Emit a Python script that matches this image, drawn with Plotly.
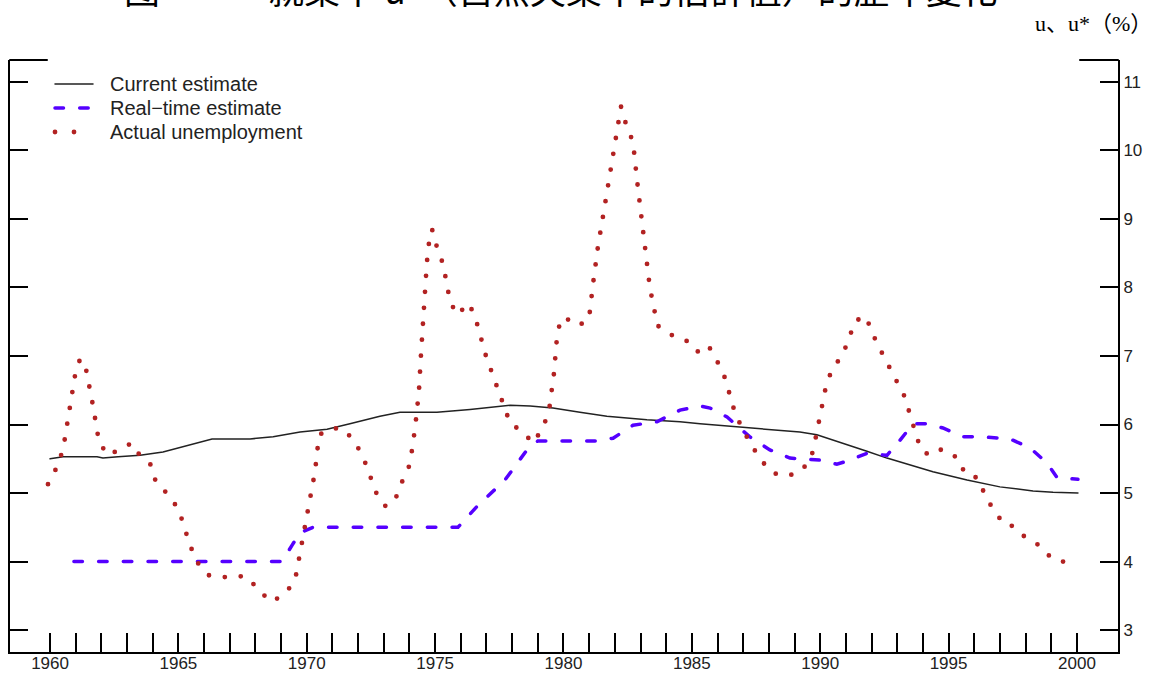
import plotly.graph_objects as go

# ---- data -------------------------------------------------------------
# Current estimate of the natural rate u*
cur_year = [1960.00, 1960.51, 1961.83, 1962.06, 1962.65, 1963.51, 1964.40, 1965.14,
            1965.73, 1966.31, 1967.79, 1968.69, 1969.74, 1970.79, 1971.68, 1972.85,
            1973.63, 1975.07, 1976.36, 1977.92, 1978.70, 1979.59, 1980.64, 1981.69,
            1983.25, 1984.54, 1985.32, 1986.99, 1988.16, 1989.21, 1989.87, 1990.89,
            1991.82, 1992.60, 1993.38, 1994.39, 1995.72, 1997.00, 1998.29, 1999.07,
            2000.04]
cur_val = [5.50, 5.53, 5.53, 5.51, 5.53, 5.55, 5.60, 5.67,
           5.73, 5.79, 5.79, 5.82, 5.89, 5.93, 6.01, 6.12,
           6.18, 6.18, 6.22, 6.28, 6.27, 6.24, 6.18, 6.12,
           6.07, 6.04, 6.01, 5.96, 5.92, 5.89, 5.85, 5.73,
           5.61, 5.51, 5.42, 5.31, 5.19, 5.09, 5.03, 5.01,
           5.00]

# Real-time estimate of u*
rt_year = [1960.93, 1969.04, 1969.43, 1969.74, 1970.24, 1975.89, 1976.67, 1977.21,
           1977.72, 1978.58, 1979.00, 1981.34, 1981.93, 1982.71, 1983.64, 1984.54,
           1985.32, 1985.71, 1986.37, 1987.26, 1988.04, 1988.82, 1989.99, 1990.65,
           1991.16, 1991.82, 1992.60, 1993.11, 1993.61, 1994.16, 1994.78, 1995.56,
           1996.34, 1997.39, 1998.17, 1998.83, 1999.22, 2000.04]
rt_val = [4.00, 4.00, 4.24, 4.42, 4.50, 4.50, 4.82, 5.01,
          5.19, 5.63, 5.76, 5.76, 5.80, 5.99, 6.04, 6.21,
          6.27, 6.24, 6.11, 5.82, 5.63, 5.51, 5.48, 5.42,
          5.48, 5.58, 5.55, 5.77, 6.01, 6.01, 5.95, 5.82,
          5.82, 5.79, 5.66, 5.44, 5.23, 5.20]

# Actual unemployment rate u
act_year = [1959.92, 1960.27, 1960.51, 1960.74, 1960.97, 1961.17, 1961.40, 1961.67,
            1961.91, 1962.26, 1962.77, 1963.19, 1963.51, 1963.93, 1964.13, 1964.63,
            1965.02, 1965.45, 1965.73, 1966.19, 1966.70, 1967.32, 1967.71, 1968.14,
            1968.65, 1969.19, 1969.54, 1969.78, 1970.05, 1970.32, 1970.48, 1971.02,
            1971.49, 1971.96, 1972.27, 1972.54, 1972.77, 1973.09, 1973.48, 1973.75,
            1974.02, 1974.22, 1974.37, 1974.45, 1974.53, 1974.61, 1974.68, 1974.76,
            1974.88, 1975.07, 1975.31, 1975.58, 1975.85, 1976.32, 1976.59, 1976.98,
            1977.45, 1977.92, 1978.42, 1978.81, 1979.20, 1979.44, 1979.63, 1979.75,
            1979.90, 1980.10, 1980.56, 1980.99, 1981.15, 1981.34, 1981.58, 1981.81,
            1982.04, 1982.12, 1982.24, 1982.43, 1982.71, 1982.86, 1983.02, 1983.17,
            1983.37, 1983.52, 1983.64, 1984.19, 1984.77, 1985.20, 1985.63, 1985.98,
            1986.29, 1986.68, 1986.99, 1987.34, 1987.69, 1988.16, 1988.74, 1989.25,
            1989.64, 1989.80, 1990.07, 1990.22, 1990.46, 1990.85, 1991.12, 1991.35,
            1991.78, 1992.02, 1992.33, 1992.64, 1992.99, 1993.30, 1993.50, 1993.73,
            1993.92, 1994.27, 1994.74, 1995.37, 1995.64, 1996.14, 1996.42, 1996.77,
            1997.20, 1997.51, 1997.97, 1998.56, 1999.03, 1999.57, 1999.88]
act_val = [5.13, 5.38, 5.64, 6.18, 6.71, 6.96, 6.81, 6.28,
           5.74, 5.55, 5.64, 5.73, 5.54, 5.41, 5.15, 4.97,
           4.75, 4.24, 3.99, 3.80, 3.77, 3.79, 3.77, 3.57,
           3.41, 3.55, 3.72, 4.24, 4.78, 5.31, 5.85, 5.95,
           5.92, 5.69, 5.45, 5.19, 4.94, 4.80, 4.94, 5.20,
           5.42, 5.95, 6.49, 7.03, 7.57, 8.11, 8.37, 8.65,
           8.85, 8.59, 8.34, 7.80, 7.60, 7.77, 7.53, 7.00,
           6.49, 6.02, 5.89, 5.73, 5.95, 6.21, 6.75, 7.29,
           7.55, 7.55, 7.44, 7.53, 8.05, 8.59, 9.13, 9.66,
           10.20, 10.46, 10.64, 10.39, 10.12, 9.58, 9.06, 8.52,
           7.98, 7.72, 7.45, 7.31, 7.23, 7.06, 7.16, 6.93,
           6.68, 6.17, 5.92, 5.69, 5.48, 5.29, 5.25, 5.32,
           5.50, 5.76, 6.28, 6.55, 6.81, 7.00, 7.25, 7.51,
           7.58, 7.34, 7.10, 6.87, 6.64, 6.40, 6.14, 5.89,
           5.63, 5.55, 5.64, 5.51, 5.28, 5.22, 4.97, 4.74,
           4.53, 4.52, 4.36, 4.23, 4.04, 3.99, 4.05]

year_ticks = list(range(1960, 2001))
year_labels = [str(y) if y % 5 == 0 else "" for y in year_ticks]
rate_ticks = list(range(3, 12))

series_names = ["Current estimate", "Real\u2212time estimate", "Actual unemployment"]

# ---- styling ----------------------------------------------------------
W, H = 1158, 677
ML, MR, MT, MB = 10, 40, 60, 25
PW, PH = W - ML - MR, H - MT - MB

BLACK = "#222222"
BLUE = "#5500FF"
RED = "#B22222"
DOT = "0px,16px"
DASH = "8.5px,16.2px"

X_RANGE = [1958.44, 2001.60]
Y_RANGE = [2.68, 11.32]


def px_x(p):
    return (p - ML) / PW


def px_y(p):
    return (H - MB - p) / PH


fig = go.Figure()
fig.add_trace(go.Scatter(x=cur_year, y=cur_val, mode="lines", name=series_names[0],
                         line=dict(color=BLACK, width=1.5)))
fig.add_trace(go.Scatter(x=rt_year, y=rt_val, mode="lines", name=series_names[1],
                         line=dict(color=BLUE, width=3.5, dash=DASH)))
fig.add_trace(go.Scatter(x=act_year, y=act_val, mode="lines", name=series_names[2],
                         line=dict(color=RED, width=4.8, dash=DOT)))
# invisible trace that carries the right-hand axis
fig.add_trace(go.Scatter(x=[X_RANGE[0]], y=[Y_RANGE[0]], yaxis="y2", mode="markers",
                         marker=dict(opacity=0), hoverinfo="skip", showlegend=False))

tick_font = dict(family="Liberation Sans, Arial, sans-serif", size=17, color=BLACK)

fig.update_layout(
    width=W, height=H,
    margin=dict(l=ML, r=MR, t=MT, b=MB, autoexpand=False),
    paper_bgcolor="white", plot_bgcolor="white",
    showlegend=False,
    xaxis=dict(range=X_RANGE, tickmode="array", tickvals=year_ticks, ticktext=year_labels,
               ticks="inside", ticklen=19, tickwidth=1.5, tickcolor="black",
               showline=True, linewidth=2, linecolor="black", showgrid=False,
               zeroline=False, tickfont=tick_font, ticklabelstandoff=-5,
               automargin=False),
    yaxis=dict(range=Y_RANGE, tickmode="array", tickvals=rate_ticks,
               ticks="inside", ticklen=18, tickwidth=2, tickcolor="black",
               showline=True, linewidth=2, linecolor="black", showgrid=False,
               zeroline=False, showticklabels=False, automargin=False),
    yaxis2=dict(range=Y_RANGE, overlaying="y", side="right", tickmode="array",
                tickvals=rate_ticks, ticks="inside", ticklen=18, tickwidth=2,
                tickcolor="black", showline=True, linewidth=2, linecolor="black",
                showgrid=False, zeroline=False, tickfont=tick_font, automargin=False),
)

shapes = [
    # short top corner stubs of the frame
    dict(type="line", xref="paper", yref="paper", x0=0, x1=px_x(47), y0=1, y1=1,
         line=dict(color="black", width=2)),
    dict(type="line", xref="paper", yref="paper", x0=px_x(1080), x1=1, y0=1, y1=1,
         line=dict(color="black", width=2)),
]

# legend drawn as line samples plus labels
legend_rows = [84, 108, 132]
legend_styles = [dict(color=BLACK, width=1.5),
                 dict(color=BLUE, width=3.5, dash=DASH),
                 dict(color=RED, width=4.8, dash="0px,19px")]
annotations = []
for row, style, name in zip(legend_rows, legend_styles, series_names):
    shapes.append(dict(type="line", xref="paper", yref="paper",
                       x0=px_x(55), x1=px_x(93), y0=px_y(row), y1=px_y(row), line=style))
    annotations.append(dict(xref="paper", yref="paper", x=px_x(108), y=px_y(row),
                            xanchor="left", yanchor="middle", showarrow=False, text=name,
                            font=dict(family="Liberation Sans, Arial, sans-serif",
                                      size=20, color=BLACK)))

# unit label above the right axis
annotations.append(dict(xref="paper", yref="paper", x=px_x(1154), y=px_y(23),
                        xanchor="right", yanchor="middle", showarrow=False,
                        text="u\u3001u*\uff08%\uff09",
                        font=dict(family="Liberation Serif, Noto Sans CJK SC, serif",
                                  size=22, color="black")))

# figure caption at the top of the page
annotations.append(dict(xref="paper", yref="paper", x=px_x(122), y=px_y(16),
                        xanchor="left", yanchor="bottom", showarrow=False,
                        text="图\u3000\u3000\u3000就業率 u*（自然失業率的估計值）的歷年變化",
                        font=dict(family="Noto Sans CJK SC", size=36, color="black")))

fig.update_layout(shapes=shapes, annotations=annotations)

round_caps = (
    "var s=document.createElement('style');"
    "s.textContent='.js-line,.shapelayer path{stroke-linecap:round !important;}';"
    "document.head.appendChild(s);"
)

fig.write_html("out.html", post_script=round_caps,
               config={"displayModeBar": False, "responsive": False})
